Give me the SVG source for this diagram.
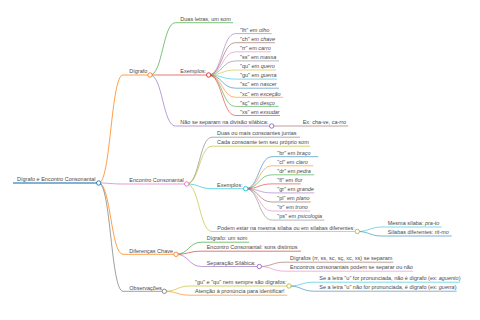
<svg xmlns="http://www.w3.org/2000/svg" width="480" height="320" viewBox="0 0 480 320">
<style>
text{font-family:"Liberation Sans",Arial,sans-serif;font-size:5.5px;fill:#4a4a4a}
path,line{fill:none;stroke-opacity:0.75}
circle{fill:#fff;stroke-width:0.9}
.d0{stroke-width:1.6}
.d1{stroke-width:1}
.d2{stroke-width:0.85}
.d3{stroke-width:0.75}
.c0{stroke:#1f77b4}.c1{stroke:#ff7f0e}.c2{stroke:#2ca02c}.c3{stroke:#d62728}.c4{stroke:#9467bd}
.c5{stroke:#8c564b}.c6{stroke:#e377c2}.c7{stroke:#7f7f7f}.c8{stroke:#bcbd22}.c9{stroke:#17becf}
</style>
<rect width="480" height="320" fill="#fff"/>
<g id="connectors">
<path class="c1 d1" d="M98.7,183 C110.85,183 110.85,75 123,75"/>
<path class="c6 d1" d="M98.7,183 C110.85,183 110.85,184 123,184"/>
<path class="c1 d1" d="M98.7,183 C110.85,183 110.85,254.3 123,254.3"/>
<path class="c7 d1" d="M98.7,183 C110.85,183 110.85,291.3 123,291.3"/>
<path class="c2 d2" d="M150,75 C162.75,75 162.75,22.7 175.5,22.7"/>
<path class="c3 d2" d="M150,75 C162.75,75 162.75,75 175.5,75"/>
<path class="c4 d2" d="M150,75 C162.75,75 162.75,126 175.5,126"/>
<path class="c4 d3" d="M208.7,75 C222.1,75 222.1,33.6 235.5,33.6"/>
<path class="c5 d3" d="M208.7,75 C222.1,75 222.1,42.7 235.5,42.7"/>
<path class="c6 d3" d="M208.7,75 C222.1,75 222.1,51.8 235.5,51.8"/>
<path class="c7 d3" d="M208.7,75 C222.1,75 222.1,60.9 235.5,60.9"/>
<path class="c8 d3" d="M208.7,75 C222.1,75 222.1,70 235.5,70"/>
<path class="c9 d3" d="M208.7,75 C222.1,75 222.1,79.1 235.5,79.1"/>
<path class="c0 d3" d="M208.7,75 C222.1,75 222.1,88.2 235.5,88.2"/>
<path class="c1 d3" d="M208.7,75 C222.1,75 222.1,97.3 235.5,97.3"/>
<path class="c2 d3" d="M208.7,75 C222.1,75 222.1,106.4 235.5,106.4"/>
<path class="c3 d3" d="M208.7,75 C222.1,75 222.1,115.5 235.5,115.5"/>
<path class="c5 d3" d="M271.7,126 L297,126"/>
<path class="c7 d2" d="M186.7,184 C199.35,184 199.35,137.2 212,137.2"/>
<path class="c8 d2" d="M186.7,184 C199.35,184 199.35,146.2 212,146.2"/>
<path class="c9 d2" d="M186.7,184 C199.35,184 199.35,188.7 212,188.7"/>
<path class="c8 d2" d="M186.7,184 C199.35,184 199.35,231.5 212,231.5"/>
<path class="c0 d3" d="M245.7,188.7 C258.85,188.7 258.85,156.7 272,156.7"/>
<path class="c1 d3" d="M245.7,188.7 C258.85,188.7 258.85,165.8 272,165.8"/>
<path class="c2 d3" d="M245.7,188.7 C258.85,188.7 258.85,174.8 272,174.8"/>
<path class="c3 d3" d="M245.7,188.7 C258.85,188.7 258.85,183.9 272,183.9"/>
<path class="c4 d3" d="M245.7,188.7 C258.85,188.7 258.85,192.9 272,192.9"/>
<path class="c5 d3" d="M245.7,188.7 C258.85,188.7 258.85,202 272,202"/>
<path class="c6 d3" d="M245.7,188.7 C258.85,188.7 258.85,211 272,211"/>
<path class="c7 d3" d="M245.7,188.7 C258.85,188.7 258.85,220.1 272,220.1"/>
<path class="c9 d3" d="M357.3,231.5 C369.65,231.5 369.65,227 382,227"/>
<path class="c0 d3" d="M357.3,231.5 C369.65,231.5 369.65,236 382,236"/>
<path class="c2 d2" d="M176,254.3 C188.75,254.3 188.75,242.2 201.5,242.2"/>
<path class="c3 d2" d="M176,254.3 C188.75,254.3 188.75,251.2 201.5,251.2"/>
<path class="c4 d2" d="M176,254.3 C188.75,254.3 188.75,266.5 201.5,266.5"/>
<path class="c5 d3" d="M259.3,266.5 C272.15,266.5 272.15,262.2 285,262.2"/>
<path class="c6 d3" d="M259.3,266.5 C272.15,266.5 272.15,271.2 285,271.2"/>
<path class="c8 d2" d="M164.3,291.3 C177.15,291.3 177.15,286 190,286"/>
<path class="c1 d2" d="M164.3,291.3 C177.15,291.3 177.15,295.2 190,295.2"/>
<path class="c9 d3" d="M289,286 C301.5,286 301.5,282.2 314,282.2"/>
<path class="c0 d3" d="M289,286 C301.5,286 301.5,291.2 314,291.2"/>
</g>
<g id="root"><line class="c0 d0" x1="13" y1="183" x2="98.7" y2="183"/><text x="17" y="181.2">Dígrafo e Encontro Consonantal</text><circle class="c0" cx="98.7" cy="183" r="2.2"/></g>
<g id="digrafo"><line class="c1 d1" x1="123" y1="75" x2="150" y2="75"/><text x="129.3" y="73.2">Dígrafo</text><circle class="c1" cx="150" cy="75" r="2.2"/></g>
<g id="d-duas"><line class="c2 d2" x1="175.5" y1="22.7" x2="233" y2="22.7"/><text x="180.3" y="20.9">Duas letras, um som</text></g>
<g id="d-exemplos"><line class="c3 d2" x1="175.5" y1="75" x2="208.7" y2="75"/><text x="180.3" y="73.2">Exemplos:</text><circle class="c3" cx="208.7" cy="75" r="2.2"/></g>
<g id="d-lh"><line class="c4 d3" x1="235.5" y1="33.6" x2="271.7" y2="33.6"/><text x="240" y="31.8">"lh" em <tspan font-style="italic">olho</tspan></text></g>
<g id="d-ch"><line class="c5 d3" x1="235.5" y1="42.7" x2="275" y2="42.7"/><text x="240" y="40.9">"ch" em <tspan font-style="italic">chave</tspan></text></g>
<g id="d-rr"><line class="c6 d3" x1="235.5" y1="51.8" x2="271" y2="51.8"/><text x="240" y="50">"rr" em <tspan font-style="italic">carro</tspan></text></g>
<g id="d-ss"><line class="c7 d3" x1="235.5" y1="60.9" x2="279" y2="60.9"/><text x="240" y="59.1">"ss" em <tspan font-style="italic">massa</tspan></text></g>
<g id="d-qu"><line class="c8 d3" x1="235.5" y1="70" x2="276" y2="70"/><text x="240" y="68.2">"qu" em <tspan font-style="italic">quero</tspan></text></g>
<g id="d-gu"><line class="c9 d3" x1="235.5" y1="79.1" x2="277" y2="79.1"/><text x="240" y="77.3">"gu" em <tspan font-style="italic">guerra</tspan></text></g>
<g id="d-sc"><line class="c0 d3" x1="235.5" y1="88.2" x2="279" y2="88.2"/><text x="240" y="86.4">"sc" em <tspan font-style="italic">nascer</tspan></text></g>
<g id="d-xc"><line class="c1 d3" x1="235.5" y1="97.3" x2="283" y2="97.3"/><text x="240" y="95.5">"xc" em <tspan font-style="italic">exceção</tspan></text></g>
<g id="d-sç"><line class="c2 d3" x1="235.5" y1="106.4" x2="278.7" y2="106.4"/><text x="240" y="104.6">"sç" em <tspan font-style="italic">desço</tspan></text></g>
<g id="d-xs"><line class="c3 d3" x1="235.5" y1="115.5" x2="280" y2="115.5"/><text x="240" y="113.7">"xs" em <tspan font-style="italic">exsudar</tspan></text></g>
<g id="d-nao"><line class="c4 d2" x1="175.5" y1="126" x2="271.7" y2="126"/><text x="180.3" y="124.2">Não se separam na divisão silábica:</text><circle class="c4" cx="271.7" cy="126" r="2.2"/></g>
<g id="d-ex"><line class="c5 d3" x1="297" y1="126" x2="348.3" y2="126"/><text x="302.7" y="124.2">Ex: cha-ve, ca-rro</text></g>
<g id="encontro"><line class="c6 d1" x1="123" y1="184" x2="186.7" y2="184"/><text x="129.3" y="182.2">Encontro Consonantal</text><circle class="c6" cx="186.7" cy="184" r="2.2"/></g>
<g id="e-duas"><line class="c7 d2" x1="212" y1="137.2" x2="300" y2="137.2"/><text x="217" y="135.4">Duas ou mais consoantes juntas</text></g>
<g id="e-cada"><line class="c8 d2" x1="212" y1="146.2" x2="310" y2="146.2"/><text x="217" y="144.4">Cada consoante tem seu próprio som</text></g>
<g id="e-exemplos"><line class="c9 d2" x1="212" y1="188.7" x2="245.7" y2="188.7"/><text x="217" y="186.9">Exemplos:</text><circle class="c9" cx="245.7" cy="188.7" r="2.2"/></g>
<g id="e-br"><line class="c0 d3" x1="272" y1="156.7" x2="318.3" y2="156.7"/><text x="277.3" y="154.9">"br" em <tspan font-style="italic">braço</tspan></text></g>
<g id="e-cl"><line class="c1 d3" x1="272" y1="165.8" x2="313.3" y2="165.8"/><text x="277.3" y="164">"cl" em <tspan font-style="italic">claro</tspan></text></g>
<g id="e-dr"><line class="c2 d3" x1="272" y1="174.8" x2="314.3" y2="174.8"/><text x="277.3" y="173">"dr" em <tspan font-style="italic">pedra</tspan></text></g>
<g id="e-fl"><line class="c3 d3" x1="272" y1="183.9" x2="300.7" y2="183.9"/><text x="277.3" y="182.1">"fl" em <tspan font-style="italic">flor</tspan></text></g>
<g id="e-gr"><line class="c4 d3" x1="272" y1="192.9" x2="314.3" y2="192.9"/><text x="277.3" y="191.1">"gr" em <tspan font-style="italic">grande</tspan></text></g>
<g id="e-pl"><line class="c5 d3" x1="272" y1="202" x2="310.7" y2="202"/><text x="277.3" y="200.2">"pl" em <tspan font-style="italic">plano</tspan></text></g>
<g id="e-tr"><line class="c6 d3" x1="272" y1="211" x2="310" y2="211"/><text x="277.3" y="209.2">"tr" em <tspan font-style="italic">trono</tspan></text></g>
<g id="e-ps"><line class="c7 d3" x1="272" y1="220.1" x2="324.3" y2="220.1"/><text x="277.3" y="218.3">"ps" em <tspan font-style="italic">psicologia</tspan></text></g>
<g id="e-podem"><line class="c8 d2" x1="212" y1="231.5" x2="357.3" y2="231.5"/><text x="217.3" y="229.7">Podem estar na mesma sílaba ou em sílabas diferentes:</text><circle class="c8" cx="357.3" cy="231.5" r="2.2"/></g>
<g id="e-mesma"><line class="c9 d3" x1="382" y1="227" x2="441.7" y2="227"/><text x="387.7" y="225.2">Mesma sílaba: <tspan font-style="italic">pra-to</tspan></text></g>
<g id="e-silabas"><line class="c0 d3" x1="382" y1="236" x2="451.7" y2="236"/><text x="387.7" y="234.2">Sílabas diferentes: <tspan font-style="italic">rit-mo</tspan></text></g>
<g id="diferencas"><line class="c1 d1" x1="123" y1="254.3" x2="176" y2="254.3"/><text x="129.3" y="252.5">Diferenças Chave</text><circle class="c1" cx="176" cy="254.3" r="2.2"/></g>
<g id="f-digrafo"><line class="c2 d2" x1="201.5" y1="242.2" x2="249.3" y2="242.2"/><text x="206.7" y="240.4">Dígrafo: um som</text></g>
<g id="f-encontro"><line class="c3 d2" x1="201.5" y1="251.2" x2="301" y2="251.2"/><text x="206.7" y="249.4">Encontro Consonantal: sons distintos</text></g>
<g id="f-separacao"><line class="c4 d2" x1="201.5" y1="266.5" x2="259.3" y2="266.5"/><text x="206.7" y="264.7">Separação Silábica:</text><circle class="c4" cx="259.3" cy="266.5" r="2.2"/></g>
<g id="f-digrafos"><line class="c5 d3" x1="285" y1="262.2" x2="393.3" y2="262.2"/><text x="290" y="260.4">Dígrafos (rr, ss, sc, sç, xc, xs) se separam</text></g>
<g id="f-encontros"><line class="c6 d3" x1="285" y1="271.2" x2="413.3" y2="271.2"/><text x="290" y="269.4">Encontros consonantais podem se separar ou não</text></g>
<g id="observacoes"><line class="c7 d1" x1="123" y1="291.3" x2="164.3" y2="291.3"/><text x="129.3" y="289.5">Observações</text><circle class="c7" cx="164.3" cy="291.3" r="2.2"/></g>
<g id="o-guqu"><line class="c8 d2" x1="190" y1="286" x2="289" y2="286"/><text x="195" y="284.2">"gu" e "qu" nem sempre são dígrafos:</text><circle class="c8" cx="289" cy="286" r="2.2"/></g>
<g id="o-se1"><line class="c9 d3" x1="314" y1="282.2" x2="460" y2="282.2"/><text x="319.3" y="280.4">Se a letra "u" for pronunciada, não é dígrafo (ex: <tspan font-style="italic">aguento</tspan>)</text></g>
<g id="o-se2"><line class="c0 d3" x1="314" y1="291.2" x2="456.7" y2="291.2"/><text x="319.3" y="289.4">Se a letra "u" não for pronunciada, é dígrafo (ex: <tspan font-style="italic">guerra</tspan>)</text></g>
<g id="o-atencao"><line class="c1 d2" x1="190" y1="295.2" x2="287.3" y2="295.2"/><text x="195" y="293.4">Atenção à pronúncia para identificar!</text></g>
</svg>
